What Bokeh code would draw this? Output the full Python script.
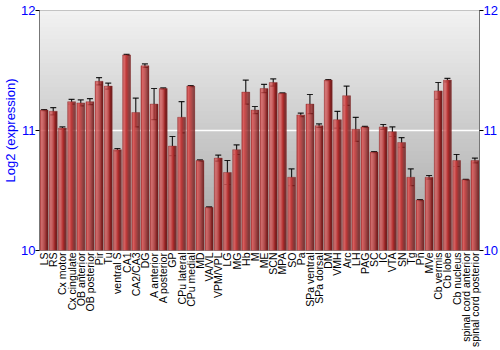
import numpy as np
from bokeh.plotting import figure
from bokeh.models import (ColumnDataSource, FactorRange, LinearAxis, Range1d,
                          FixedTicker, Whisker, TeeHead)
from bokeh.transform import dodge
from bokeh.embed import file_html
from bokeh.resources import INLINE

categories = ["LS", "RS", "Cx motor", "Cx cingulate", "OB anterior", "OB posterior",
              "Pir", "Tu", "ventral S", "CA1", "CA2/CA3", "DG", "A anterior",
              "A posterior", "GP", "CPu lateral", "CPu medial", "MD", "VA/VL",
              "VPM/VPL", "LG", "MG", "Hb", "M", "ME", "SCN", "MPA", "SO", "Pa",
              "SPa ventral", "SPa dorsal", "DM", "VMH", "Arc", "LH", "PAG", "SC",
              "IC", "VTA", "SN", "Tg", "Pn", "MVe", "Cb vermis", "Cb lobe",
              "Cb nucleus", "spinal cord anterior", "spinal cord posterior"]
values = [11.17, 11.16, 11.02, 11.24, 11.23, 11.24, 11.41, 11.37, 10.84, 11.63,
          11.15, 11.54, 11.22, 11.35, 10.87, 11.11, 11.37, 10.75, 10.36, 10.77,
          10.65, 10.84, 11.32, 11.17, 11.35, 11.40, 11.31, 10.61, 11.13, 11.22,
          11.04, 11.42, 11.09, 11.29, 11.01, 11.03, 10.82, 11.03, 10.99, 10.90,
          10.61, 10.42, 10.61, 11.33, 11.42, 10.75, 10.59, 10.75]
errors = [0.005, 0.03, 0.01, 0.02, 0.025, 0.025, 0.03, 0.025, 0.01, 0.005,
          0.12, 0.015, 0.13, 0.005, 0.08, 0.13, 0.005, 0.005, 0.003, 0.025,
          0.1, 0.04, 0.1, 0.03, 0.035, 0.03, 0.003, 0.07, 0.015, 0.08,
          0.015, 0.005, 0.07, 0.08, 0.1, 0.005, 0.005, 0.02, 0.04, 0.04,
          0.07, 0.005, 0.015, 0.07, 0.015, 0.05, 0.003, 0.02]
y_ticks = [10, 11, 12]

vals = np.array(values)
errs = np.array(errors)
src = ColumnDataSource(dict(cat=categories, val=vals, upper=vals + errs, lower=vals - errs))

p = figure(width=500, height=350, x_range=FactorRange(factors=categories),
           y_range=Range1d(10, 12), output_backend="svg", toolbar_location=None,
           min_border_left=0, min_border_right=0, min_border_top=10,
           min_border_bottom=100, y_axis_label="Log2 (expression)")
p.background_fill_color = "white"
p.border_fill_color = "white"
p.outline_line_color = "#777777"

# background vertical gradient (style only)
n = 60
edges = np.linspace(10, 12, n + 1)
shades = np.linspace(0xa4, 0xf2, n).astype(int)
bg_cols = ["#%02x%02x%02x" % (s, s, s) for s in shades]
p.quad(left=[-1] * n, right=[len(categories) + 1] * n, bottom=edges[:-1], top=edges[1:],
       fill_color=bg_cols, line_color=bg_cols, line_width=1, level="underlay")

p.xgrid.grid_line_color = None
p.ygrid.ticker = FixedTicker(ticks=[11])
p.ygrid.grid_line_color = "white"
p.ygrid.grid_line_width = 1.5
p.ygrid.level = "underlay"

# bars with a horizontal shading made of stripes
bar_w = 0.86
stripe_cols = ["#c24848", "#d65e5e", "#cc4c4c", "#bb3a3a", "#a52a2a", "#862020", "#6e1a1a"]
k = len(stripe_cols)
sw = bar_w / k
for i, c in enumerate(stripe_cols):
    off = -bar_w / 2 + sw * (i + 0.5)
    p.vbar(x=dodge("cat", off, range=p.x_range), top="val", bottom=10, width=sw * 1.05,
           source=src, fill_color=c, line_color=None)
p.vbar(x="cat", top="val", bottom=10, width=bar_w, source=src, fill_color=None,
       line_color="#8a3030", line_alpha=0.5, line_width=0.8)

wh = Whisker(base="cat", upper="upper", lower="lower", source=src,
             line_color="black", line_width=1.2, line_alpha=0.85,
             upper_head=TeeHead(size=6, line_color="black", line_width=1.2, line_alpha=0.85),
             lower_head=TeeHead(size=6, line_color="black", line_width=1.2, line_alpha=0.85))
p.add_layout(wh)

def style_y(ax):
    ax.ticker = FixedTicker(ticks=y_ticks)
    ax.major_label_text_color = "blue"
    ax.major_label_text_font = "Liberation Sans"
    ax.major_label_text_font_size = "13px"
    ax.axis_line_color = "#777777"
    ax.major_tick_line_color = "black"
    ax.major_tick_out = 4
    ax.major_tick_in = 0
    ax.minor_tick_line_color = None
    ax.major_label_standoff = 0

style_y(p.yaxis[0])
p.yaxis[0].axis_label_text_color = "blue"
p.yaxis[0].axis_label_text_font = "Liberation Sans"
p.yaxis[0].axis_label_text_font_size = "13px"
p.yaxis[0].axis_label_text_font_style = "normal"
p.yaxis[0].axis_label_standoff = 0

ry = LinearAxis()
style_y(ry)
p.add_layout(ry, "right")

xa = p.xaxis[0]
xa.major_label_orientation = np.pi / 2
xa.major_label_text_font = "Liberation Sans"
xa.major_label_text_font_size = "10.5px"
xa.major_label_text_color = "black"
xa.axis_line_color = None
xa.major_tick_line_color = None
xa.major_tick_in = 0
xa.major_tick_out = 0
xa.major_label_standoff = 2

open("out.html", "w").write(file_html(p, INLINE))
